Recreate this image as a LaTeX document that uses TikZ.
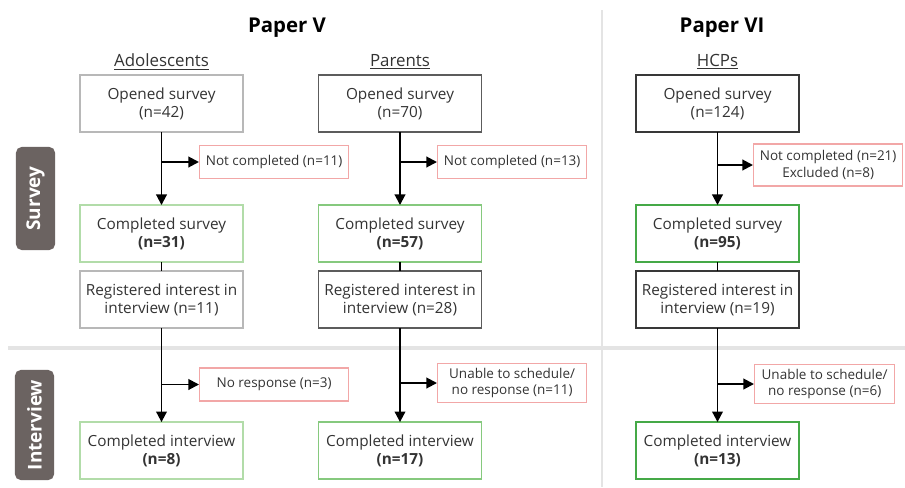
\documentclass[tikz,border=0pt]{standalone}
\usepackage{fontspec}
\setmainfont{Open Sans}
\usetikzlibrary{positioning,arrows.meta}

\definecolor{textGrey}{HTML}{333333}
\definecolor{adoGrey}{HTML}{B8B8B8}
\definecolor{parGrey}{HTML}{5C5C5C}
\definecolor{hcpGrey}{HTML}{383838}
\definecolor{adoGreen}{HTML}{B2DCA9}
\definecolor{parGreen}{HTML}{86C97E}
\definecolor{hcpGreen}{HTML}{45A947}
\definecolor{exclRed}{HTML}{F2A7A7}
\definecolor{sideFill}{HTML}{6B6361}
\definecolor{divGrey}{HTML}{E4E4E4}

\begin{document}
\begin{tikzpicture}[
    x=0.025cm, y=-0.025cm,
    every node/.style={
        text centered,
        text=textGrey,
        },
    boxWidth/.style={minimum width=4.075cm},
    boxHeight/.style={minimum height=1.425cm},
    stageBox/.style={boxWidth, boxHeight, draw, line width=0.9pt, outer sep=0pt, align=center, font=\fontsize{10.9}{12.8}\selectfont},
    exclBox/.style={draw=exclRed, line width=0.9pt, minimum width=3.725cm, minimum height=0.82cm, inner ysep=3pt, align=center, font=\fontsize{9.6}{11.8}\selectfont},
    sideLabel/.style={fill=sideFill, rounded corners=4pt, rotate=90, minimum height=0.975cm, text=white, font=\fontsize{13.5}{16}\bfseries},
    paperTitle/.style={text=black, font=\fontsize{14.5}{17}\bfseries},
    groupTitle/.style={font=\fontsize{12}{14}\selectfont},
    flow/.style={-{Triangle[length=7.5pt, width=7.5pt]}, line width=1.4pt},
        ]
    \useasboundingbox (0, 0) rectangle (905, 487);

    % dividers
    \draw[divGrey, line width=2.8pt] (8, 348) -- (905, 348);
    \draw[divGrey, line width=1.3pt] (602, 10) -- (602, 487);

    % side labels
    \node[sideLabel, minimum width=2.575cm] (survey) at (35.5, 198.5) {Survey};
    \node[sideLabel, minimum width=2.75cm] (interview) at (34.5, 425) {Interview};

    % titles
    \node[paperTitle] (paper5) at (287, 28) {Paper V};
    \node[paperTitle] (paper6) at (722, 28) {Paper VI};
    \node[groupTitle] (adoTitle) at (161.5, 62) {\underline{Adolescents}};
    \node[groupTitle] (parTitle) at (400, 62) {\underline{Parents}};
    \node[groupTitle] (hcpTitle) at (717.5, 62) {\underline{HCPs}};

    % adolescents
    \node[stageBox, draw=adoGrey] (adoOpen) at (161.5, 103.5) {Opened survey\\(n=42)};
    \node[stageBox, draw=adoGreen, below=1.825cm of adoOpen] (adoDone) {Completed survey\\\textbf{(n=31)}};
    \node[stageBox, draw=adoGrey, below=0.225cm of adoDone] (adoReg) {Registered interest in\\interview (n=11)};
    \node[stageBox, draw=adoGreen, below=2.35cm of adoReg] (adoInt) {Completed interview\\\textbf{(n=8)}};
    \node[exclBox, anchor=west] (adoNot) at (199, 162) {Not completed (n=11)};
    \node[exclBox, anchor=west] (adoNoResp) at (199, 384.5) {No response (n=3)};

    % parents
    \node[stageBox, draw=parGrey] (parOpen) at (400, 103.5) {Opened survey\\(n=70)};
    \node[stageBox, draw=parGreen, below=1.825cm of parOpen] (parDone) {Completed survey\\\textbf{(n=57)}};
    \node[stageBox, draw=parGrey, below=0.225cm of parDone] (parReg) {Registered interest in\\interview (n=28)};
    \node[stageBox, draw=parGreen, below=2.35cm of parReg] (parInt) {Completed interview\\\textbf{(n=17)}};
    \node[exclBox, anchor=west] (parNot) at (437, 162) {Not completed (n=13)};
    \node[exclBox, anchor=west] (parNoResp) at (437, 383) {Unable to schedule/\\no response (n=11)};

    % HCPs
    \node[stageBox, draw=hcpGrey, line width=1.3pt] (hcpOpen) at (717.5, 103.5) {Opened survey\\(n=124)};
    \node[stageBox, draw=hcpGreen, line width=1.3pt, below=1.825cm of hcpOpen] (hcpDone) {Completed survey\\\textbf{(n=95)}};
    \node[stageBox, draw=hcpGrey, line width=1.3pt, below=0.225cm of hcpDone] (hcpReg) {Registered interest in\\interview (n=19)};
    \node[stageBox, draw=hcpGreen, line width=1.3pt, below=2.35cm of hcpReg] (hcpInt) {Completed interview\\\textbf{(n=13)}};
    \node[exclBox, anchor=west, minimum height=1.05cm] (hcpNot) at (753, 165) {Not completed (n=21)\\Excluded (n=8)};
    \node[exclBox, anchor=west, minimum width=3.5cm] (hcpNoResp) at (754, 384) {Unable to schedule/\\no response (n=6)};

    % connectors
    \foreach \g in {ado, par, hcp} {
        \draw[flow] (\g Open.south) -- (\g Done.north);
        \draw[line width=1.4pt] (\g Done.south) -- (\g Reg.north);
        \draw[flow] (\g Reg.south) -- (\g Int.north);
        \draw[flow] (\g Open.south |- \g Not.west) -- (\g Not.west);
        \draw[flow] (\g Reg.south |- \g NoResp.west) -- (\g NoResp.west);
    }
\end{tikzpicture}
\end{document}
